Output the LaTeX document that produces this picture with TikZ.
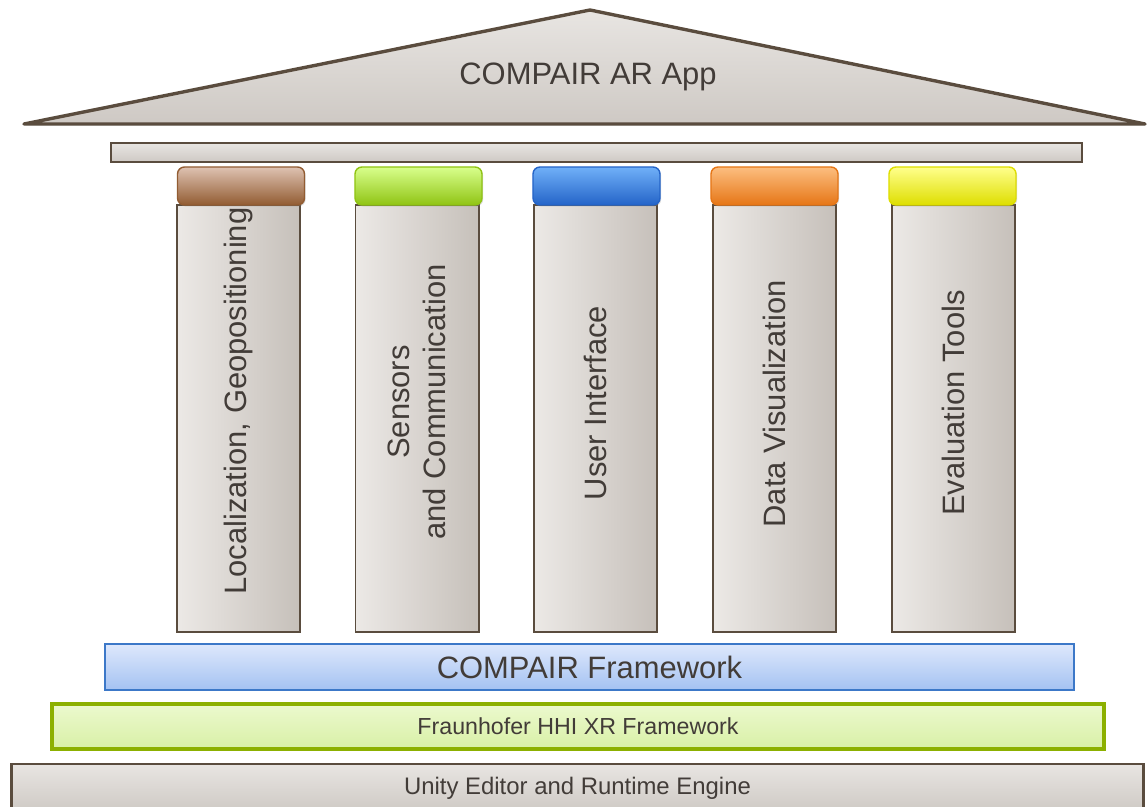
\documentclass[tikz,border=0pt]{standalone}
\usepackage{fontspec}
\setmainfont{Liberation Sans}
\usetikzlibrary{shadows}

\definecolor{edge}{RGB}{90,76,62}
\definecolor{ink}{RGB}{66,60,56}
\definecolor{stonelt}{RGB}{236,233,230}
\definecolor{stonedk}{RGB}{198,192,186}
\definecolor{stonetop}{RGB}{232,229,226}
\definecolor{stonebot}{RGB}{206,201,196}
\definecolor{browntop}{RGB}{222,194,178}
\definecolor{brownbot}{RGB}{146,92,50}
\definecolor{greentop}{RGB}{216,255,140}
\definecolor{greenbot}{RGB}{144,196,20}
\definecolor{bluetop}{RGB}{112,176,248}
\definecolor{bluebot}{RGB}{36,100,200}
\definecolor{orangetop}{RGB}{252,190,128}
\definecolor{orangebot}{RGB}{230,118,22}
\definecolor{yellowtop}{RGB}{255,255,140}
\definecolor{yellowbot}{RGB}{222,222,0}
\definecolor{fwtop}{RGB}{222,232,252}
\definecolor{fwbot}{RGB}{164,194,242}
\definecolor{fwedge}{RGB}{60,120,200}
\definecolor{xrtop}{RGB}{236,249,206}
\definecolor{xrbot}{RGB}{216,240,166}
\definecolor{xredge}{RGB}{140,176,0}

\begin{document}
\begin{tikzpicture}[
  x=0.025cm, y=-0.025cm, font=\fontsize{22}{26}\selectfont, text=ink,
  shadowed/.style={drop shadow={shadow xshift=0.8pt, shadow yshift=-1pt, opacity=0.3}},
  roof/.style={draw=edge, line width=2.4pt, line join=round, top color=stonetop, bottom color=stonebot, shadowed},
  beam/.style={draw=edge, line width=1.4pt, top color=stonetop, bottom color=stonebot, inner sep=0pt, shadowed},
  shaft/.style={draw=edge, line width=1.4pt, left color=stonelt, right color=stonedk,
    minimum width=3.075cm, minimum height=10.675cm, inner sep=0pt, shadowed},
  cap/.style={draw=#1bot, line width=1pt, rounded corners=5pt, top color=#1top, bottom color=#1bot,
    minimum width=3.175cm, minimum height=0.95cm, inner sep=0pt, shadowed},
  layer/.style={minimum width=#1, inner sep=0pt, shadowed}
]
\useasboundingbox (0,0) rectangle (1147,807);

%% Roof
\coordinate (eaveL) at (24,124);
\coordinate (ridge) at (590,10);
\coordinate (eaveR) at (1145,124);
\draw[roof] (eaveL) -- (ridge) -- (eaveR) -- cycle;
\node (app) at (588,77) {COMPAIR AR App};

%% Architrave
\node[beam, minimum width=24.275cm, minimum height=0.475cm] (beam) at (596.5,152.5) {};

%% Pillar shafts
\node[shaft] (locshaft) at (238.5,418.5) {};
\node[shaft] (sensshaft) at (417,418.5) {};
\node[shaft] (uishaft) at (595.5,418.5) {};
\node[shaft] (visshaft) at (774.5,418.5) {};
\node[shaft] (evalshaft) at (953.5,418.5) {};

%% Capitals
\node[cap=brown] (loccap) at (241,186) {};
\node[cap=green] (senscap) at (418.5,186) {};
\node[cap=blue] (uicap) at (596.5,186) {};
\node[cap=orange] (viscap) at (774.5,186) {};
\node[cap=yellow] (evalcap) at (952.5,186) {};

%% Pillar labels
\node[rotate=90] (loc) at (238.5,401) {Localization, Geopositioning};
\node[rotate=90, align=center] (sens) at (417,402) {Sensors\\and Communication};
\node[rotate=90] (ui) at (595.5,403) {User Interface};
\node[rotate=90] (vis) at (774.5,404) {Data Visualization};
\node[rotate=90] (eval) at (953.5,403) {Evaluation Tools};

%% Foundation layers
\node[layer=24.225cm, minimum height=1.15cm, draw=fwedge, line width=1.1pt,
  top color=fwtop, bottom color=fwbot] (compair) at (589.5,667) {COMPAIR Framework};
\node[layer=26.3cm, minimum height=1.125cm, draw=xredge, line width=2.4pt,
  top color=xrtop, bottom color=xrbot, font=\fontsize{16.5}{20}\selectfont] (xr) at (578,726.5) {Fraunhofer HHI XR Framework};
\node[layer=28.275cm, minimum height=1.2cm, draw=edge, line width=2.1pt,
  top color=stonetop, bottom color=stonebot, font=\fontsize{17}{20}\selectfont] (unity) at (577.5,788) {Unity Editor and Runtime Engine};
\end{tikzpicture}
\end{document}
